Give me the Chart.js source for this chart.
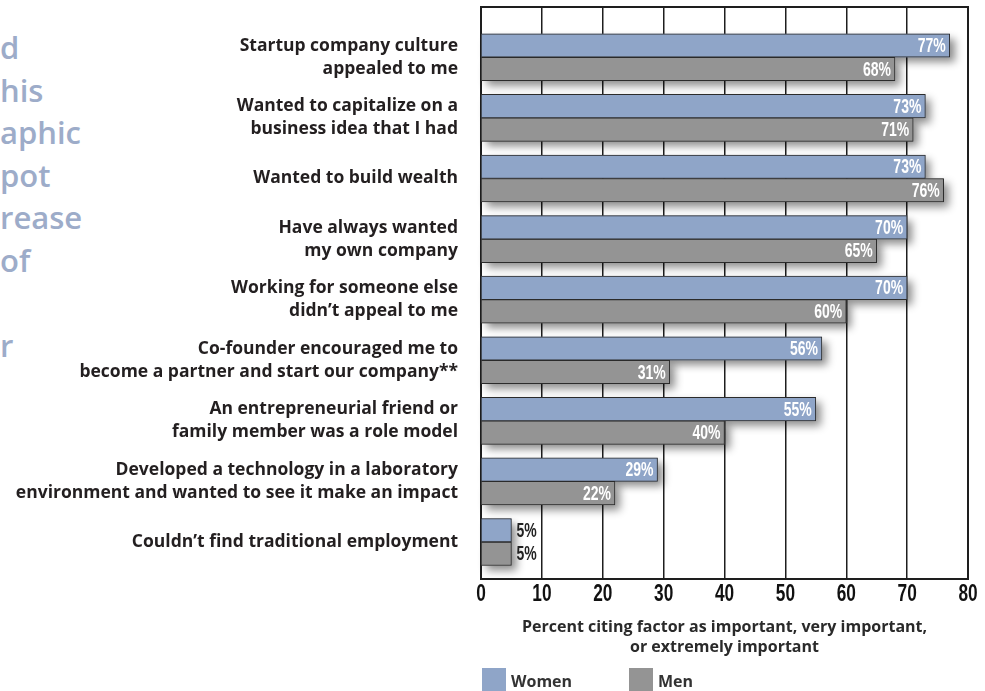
<!DOCTYPE html>
<html>
<head>
<meta charset="utf-8">
<script src="https://cdn.jsdelivr.net/npm/chart.js@4"></script>
<style>
  body { margin: 0; background: #fff; }
  #wrap { position: relative; width: 985px; height: 691px; overflow: hidden; }
  #side {
    position: absolute; left: 0; top: 26px;
    font: 600 31px 'Open Sans', sans-serif; line-height: 42.6px;
    color: #9dacc9; white-space: pre;
  }
  canvas { position: absolute; left: 0; top: 0; }
</style>
</head>
<body>
<div id="wrap">
  <div id="side">d
his
aphic
pot
rease
of

r</div>
  <canvas id="chart" width="985" height="691"></canvas>
</div>
<script>
// reasons for starting a company, top to bottom
const categories = [
  ["Startup company culture", "appealed to me"],
  ["Wanted to capitalize on a", "business idea that I had"],
  ["Wanted to build wealth"],
  ["Have always wanted", "my own company"],
  ["Working for someone else", "didn\u2019t appeal to me"],
  ["Co-founder encouraged me to", "become a partner and start our company**"],
  ["An entrepreneurial friend or", "family member was a role model"],
  ["Developed a technology in a laboratory", "environment and wanted to see it make an impact"],
  ["Couldn\u2019t find traditional employment"]
];
const women = [77, 73, 73, 70, 70, 56, 55, 29, 5];
const men = [68, 71, 76, 65, 60, 31, 40, 22, 5];
const seriesNames = ["Women", "Men"];
const xTicks = [0, 10, 20, 30, 40, 50, 60, 70, 80];
const axisTitle = ["Percent citing factor as important, very important,", "or extremely important"];

const narrow = "'Liberation Sans', Arial, sans-serif";
const text = "'Open Sans', sans-serif";

// squeezed text, the reference uses a condensed face
function narrowText(ctx, str, x, y, sx) {
  ctx.save();
  ctx.translate(x, y);
  ctx.scale(sx, 1);
  ctx.fillText(str, 0, 0);
  ctx.restore();
}

// frame, bar shadows, value labels, x tick labels and the legend
const decor = {
  id: "decor",
  beforeDatasetsDraw(chart) {
    const { ctx, chartArea: a } = chart;
    ctx.save();
    ctx.strokeStyle = "#1e1e1e";
    ctx.lineWidth = 2;
    ctx.strokeRect(a.left, a.top, a.right - a.left, a.bottom - a.top);
    ctx.restore();
    // soft drop shadow under every bar
    ctx.save();
    ctx.shadowColor = "rgba(0,0,0,0.45)";
    ctx.shadowBlur = 8;
    ctx.shadowOffsetX = 5;
    ctx.shadowOffsetY = 5;
    chart.data.datasets.forEach((ds, di) => {
      ctx.fillStyle = ds.backgroundColor;
      chart.getDatasetMeta(di).data.forEach(bar => {
        const p = bar.getProps(["x", "y", "base", "height"]);
        ctx.fillRect(p.base, p.y - p.height / 2, p.x - p.base, p.height);
      });
    });
    ctx.restore();
  },
  afterDatasetsDraw(chart) {
    const ctx = chart.ctx;
    ctx.save();
    ctx.font = "bold 20px " + narrow;
    ctx.textBaseline = "middle";
    chart.data.datasets.forEach((ds, di) => {
      chart.getDatasetMeta(di).data.forEach((bar, i) => {
        const v = ds.data[i];
        if (v >= 10) {
          ctx.fillStyle = "#fff";
          ctx.textAlign = "right";
          narrowText(ctx, v + "%", bar.x - 4, bar.y + 1, 0.7);
        } else {
          ctx.fillStyle = "#222";
          ctx.textAlign = "left";
          narrowText(ctx, v + "%", bar.x + 5, bar.y + 1, 0.7);
        }
      });
    });
    ctx.restore();
  },
  afterDraw(chart) {
    const { ctx, chartArea: a } = chart;
    const xs = chart.scales.x;
    ctx.save();
    ctx.font = "bold 24px " + narrow;
    ctx.fillStyle = "#111";
    ctx.textAlign = "center";
    ctx.textBaseline = "middle";
    xs.ticks.forEach(t => narrowText(ctx, String(t.value), xs.getPixelForValue(t.value), a.bottom + 15, 0.72));

    ctx.font = "bold 16px " + text;
    ctx.textAlign = "left";
    chart.data.datasets.forEach((ds, di) => {
      const x = a.left + 1 + di * 147;
      ctx.fillStyle = ds.backgroundColor;
      ctx.fillRect(x, 668, 24, 24);
      ctx.fillStyle = "#333";
      ctx.fillText(ds.label, x + 29, 682);
    });
    ctx.restore();
  }
};

new Chart(document.getElementById("chart"), {
  type: "bar",
  data: {
    labels: categories.map((c, i) => i),
    datasets: [
      {
        label: seriesNames[0],
        data: women,
        backgroundColor: "#8fa5c8",
        borderColor: "#2b2b2b",
        borderWidth: 1,
        barThickness: 23.5
      },
      {
        label: seriesNames[1],
        data: men,
        backgroundColor: "#949494",
        borderColor: "#2b2b2b",
        borderWidth: 1,
        barThickness: 23.5
      }
    ]
  },
  options: {
    indexAxis: "y",
    responsive: false,
    animation: false,
    layout: { padding: { top: 7, right: 17, bottom: 34, left: 0 } },
    plugins: {
      legend: { display: false },
      tooltip: { enabled: false }
    },
    scales: {
      x: {
        min: 0,
        max: 80,
        afterBuildTicks: s => { s.ticks = xTicks.map(v => ({ value: v })); },
        afterFit: s => { s.height = 78; s.paddingLeft = 0; s.paddingRight = 0; },
        grid: { color: "#1e1e1e", lineWidth: 1.5, drawTicks: false },
        border: { color: "#1e1e1e", width: 2 },
        ticks: { display: false },
        title: {
          display: true,
          text: axisTitle,
          color: "#2a2a2a",
          padding: { top: 0, bottom: 0 },
          font: { family: text, size: 16, weight: "bold", lineHeight: 1.25 }
        }
      },
      y: {
        type: "linear",
        reverse: true,
        offset: false,
        min: -0.83,
        max: 8.61,
        afterBuildTicks: s => { s.ticks = categories.map((c, i) => ({ value: i })); },
        afterFit: s => { s.width = 481; s.paddingTop = 0; s.paddingBottom = 0; },
        grid: { display: false },
        border: { color: "#1e1e1e", width: 2 },
        ticks: {
          padding: 15,
          color: "#231f20",
          font: { family: text, size: 17.5, weight: "bold", lineHeight: 1.32 },
          callback: v => categories[v]
        }
      }
    }
  },
  plugins: [decor]
});
</script>
</body>
</html>
